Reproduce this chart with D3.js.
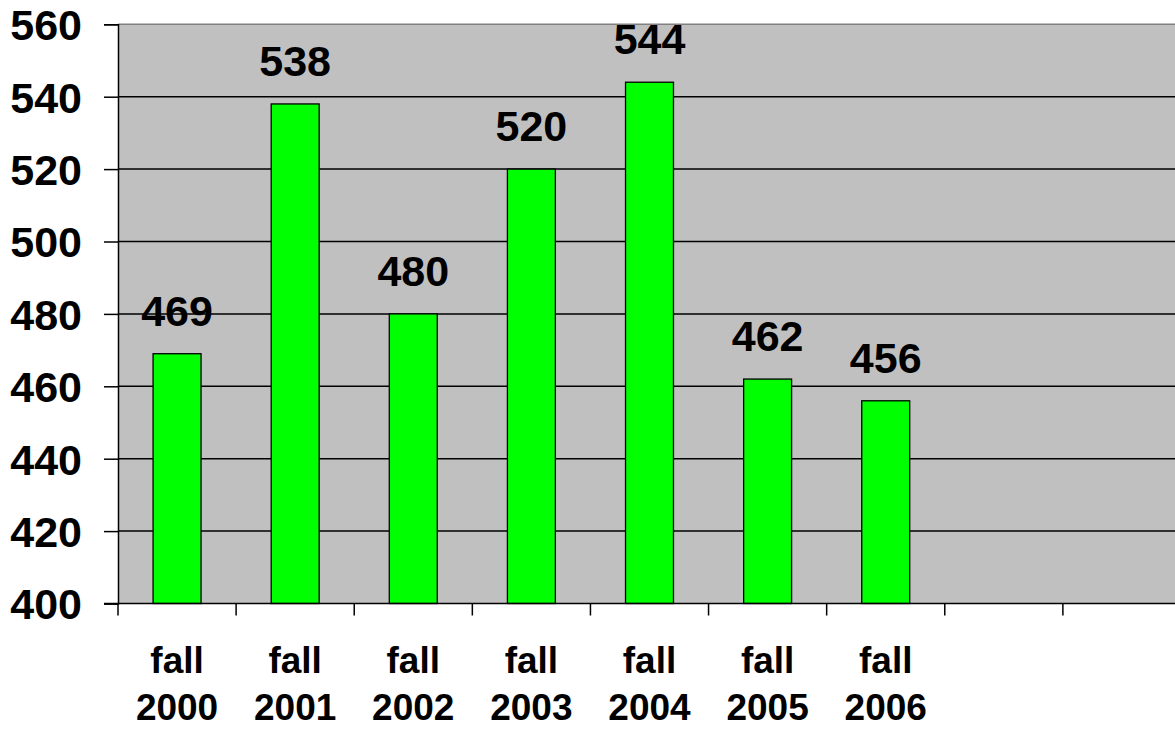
<!DOCTYPE html>
<html>
<head>
<meta charset="utf-8">
<script src="https://cdn.jsdelivr.net/npm/d3@7"></script>
<style>
  body { margin: 0; background: #fff; }
  text { font-family: "Liberation Sans", Arial, sans-serif; font-weight: bold; fill: #000; }
</style>
</head>
<body>
<script>
// data
const categories = ["fall 2000", "fall 2001", "fall 2002", "fall 2003", "fall 2004", "fall 2005", "fall 2006", "", " "];
const values = [469, 538, 480, 520, 544, 462, 456];
const yTicks = [400, 420, 440, 460, 480, 500, 520, 540, 560];

const width = 1175, height = 729;
const plotLeft = 118, plotTop = 24.3, plotBottom = 603.5;
const plotWidth = 1063;

const svg = d3
  .select("body")
  .append("svg")
  .attr("width", width)
  .attr("height", height);

const p = 0.594;
const x = d3
  .scaleBand()
  .domain(categories)
  .range([plotLeft, plotLeft + plotWidth])
  .paddingInner(p)
  .paddingOuter(p / 2);

const y = d3.scaleLinear().domain([400, 560]).range([plotBottom, plotTop]);

// plot background
svg
  .append("rect")
  .attr("x", plotLeft)
  .attr("y", plotTop)
  .attr("width", plotWidth)
  .attr("height", plotBottom - plotTop)
  .attr("fill", "#c0c0c0");

// gridlines
svg
  .selectAll("line.grid")
  .data(yTicks.filter((d) => d > 400 && d < 560))
  .enter()
  .append("line")
  .attr("x1", plotLeft)
  .attr("x2", plotLeft + plotWidth)
  .attr("y1", (d) => y(d))
  .attr("y2", (d) => y(d))
  .attr("stroke", "#000")
  .attr("stroke-width", 1.5);

// top border
svg
  .append("line")
  .attr("x1", plotLeft)
  .attr("x2", plotLeft + plotWidth)
  .attr("y1", y(560))
  .attr("y2", y(560))
  .attr("stroke", "#808080")
  .attr("stroke-width", 1.5);

// bars
svg
  .selectAll("rect.bar")
  .data(values)
  .enter()
  .append("rect")
  .attr("class", "bar")
  .attr("x", (d, i) => x(categories[i]))
  .attr("y", (d) => y(d))
  .attr("width", x.bandwidth())
  .attr("height", (d) => y(400) - y(d))
  .attr("fill", "#00ff00")
  .attr("stroke", "#000")
  .attr("stroke-width", 1.3);

// value labels
svg
  .selectAll("text.val")
  .data(values)
  .enter()
  .append("text")
  .attr("x", (d, i) => x(categories[i]) + x.bandwidth() / 2)
  .attr("y", (d) => y(d) - 28)
  .attr("text-anchor", "middle")
  .style("font-size", "43px")
  .text((d) => d);

// y axis
const yAxis = d3
  .axisLeft(y)
  .tickValues(yTicks)
  .tickSize(14)
  .tickPadding(22)
  .tickFormat(d3.format("d"));

const gy = svg
  .append("g")
  .attr("transform", `translate(${plotLeft},0)`)
  .call(yAxis);
gy.select(".domain").attr("stroke", "#000").attr("stroke-width", 1.5);
gy.selectAll(".tick line").attr("stroke", "#000").attr("stroke-width", 1.5);
gy.selectAll(".tick text")
  .attr("dy", "0.36em")
  .style("font-size", "43px")
  .style("font-family", '"Liberation Sans", Arial, sans-serif')
  .style("font-weight", "bold")
  .attr("fill", "#000");

// x axis line and slot ticks
svg
  .append("line")
  .attr("x1", plotLeft - 14)
  .attr("x2", plotLeft + plotWidth)
  .attr("y1", plotBottom)
  .attr("y2", plotBottom)
  .attr("stroke", "#000")
  .attr("stroke-width", 1.5);

svg
  .selectAll("line.xtick")
  .data(d3.range(categories.length + 1))
  .enter()
  .append("line")
  .attr("x1", (i) => plotLeft + i * x.step())
  .attr("x2", (i) => plotLeft + i * x.step())
  .attr("y1", plotBottom)
  .attr("y2", plotBottom + 12)
  .attr("stroke", "#000")
  .attr("stroke-width", 1.5);

// category labels, two lines each
const cat = svg
  .selectAll("text.cat")
  .data(categories.filter((c) => c.trim() !== ""))
  .enter()
  .append("text")
  .attr("text-anchor", "middle")
  .style("font-size", "37px");

cat
  .append("tspan")
  .attr("x", (d) => x(d) + x.bandwidth() / 2)
  .attr("y", 673)
  .text((d) => d.split(" ")[0]);

cat
  .append("tspan")
  .attr("x", (d) => x(d) + x.bandwidth() / 2)
  .attr("y", 720)
  .text((d) => d.split(" ")[1]);
</script>
</body>
</html>
